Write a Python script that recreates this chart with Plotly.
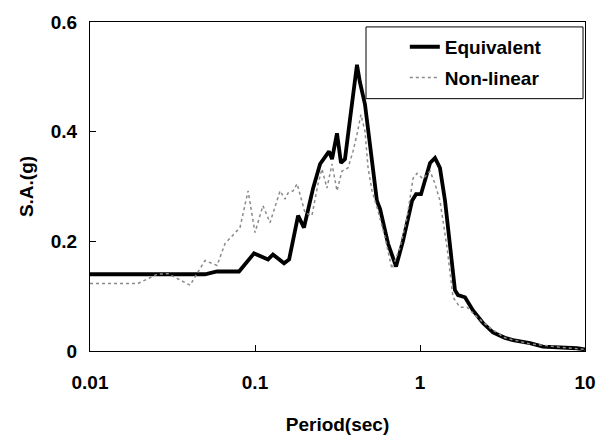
import plotly.graph_objects as go

# Equivalent (black solid)
eq_period = [0.01, 0.0498, 0.0589, 0.080, 0.0987, 0.120, 0.1285, 0.150, 0.161, 0.1825,
             0.198, 0.225, 0.248, 0.281, 0.293, 0.314, 0.332, 0.351, 0.377, 0.415,
             0.432, 0.464, 0.512, 0.548, 0.573, 0.640, 0.716, 0.789, 0.895, 0.946,
             1.014, 1.072, 1.151, 1.233, 1.321, 1.418, 1.520, 1.629, 1.700, 1.874,
             2.096, 2.408, 2.769, 3.27, 3.66, 4.64, 5.56, 7.78, 8.95, 10.0]
eq_sa = [0.140, 0.140, 0.145, 0.145, 0.178, 0.167, 0.176, 0.160, 0.167, 0.247,
         0.225, 0.297, 0.341, 0.364, 0.350, 0.397, 0.343, 0.350, 0.424, 0.522,
         0.491, 0.450, 0.346, 0.274, 0.259, 0.196, 0.154, 0.201, 0.274, 0.286,
         0.286, 0.314, 0.343, 0.352, 0.334, 0.274, 0.196, 0.111, 0.102, 0.098,
         0.074, 0.051, 0.034, 0.024, 0.020, 0.0145, 0.008, 0.007, 0.005, 0.003]

# Non-linear (grey dotted)
nl_period = [0.01, 0.0195, 0.0225, 0.0255, 0.0297, 0.0404, 0.0445, 0.0498, 0.0589, 0.0658,
             0.0811, 0.0908, 0.100, 0.1117, 0.1233, 0.1419, 0.152, 0.1585, 0.170, 0.180,
             0.201, 0.2213, 0.241, 0.2547, 0.2729, 0.293, 0.314, 0.3365, 0.3664, 0.3926,
             0.415, 0.4385, 0.464, 0.4844, 0.512, 0.556, 0.614, 0.676, 0.757, 0.834,
             0.908, 0.960, 1.042, 1.151, 1.233, 1.321, 1.458, 1.585, 1.746, 1.927,
             2.213, 2.655, 3.27, 4.64, 7.0, 10.0]
nl_sa = [0.123, 0.123, 0.132, 0.140, 0.141, 0.120, 0.141, 0.165, 0.156, 0.196,
         0.225, 0.292, 0.216, 0.265, 0.234, 0.292, 0.277, 0.288, 0.292, 0.305,
         0.252, 0.247, 0.305, 0.332, 0.297, 0.341, 0.292, 0.328, 0.334, 0.364,
         0.395, 0.431, 0.401, 0.334, 0.292, 0.256, 0.207, 0.150, 0.189, 0.243,
         0.315, 0.324, 0.314, 0.328, 0.305, 0.274, 0.189, 0.098, 0.080, 0.080,
         0.062, 0.042, 0.024, 0.013, 0.007, 0.003]

x_ticks = [0.01, 0.1, 1, 10]
x_tick_labels = ["0.01", "0.1", "1", "10"]
y_ticks = [0, 0.2, 0.4, 0.6]
y_tick_labels = ["0", "0.2", "0.4", "0.6"]

FONT = "Liberation Sans, Arial, sans-serif"
FS = 19

fig = go.Figure()
fig.add_trace(go.Scatter(x=eq_period, y=eq_sa, mode="lines", name="Equivalent",
                         legendgroup="a",
                         line=dict(color="black", width=3.8)))
fig.add_trace(go.Scatter(x=nl_period, y=nl_sa, mode="lines", name="Non-linear",
                         legendgroup="b",
                         line=dict(color="#8a8a8a", width=1.5, dash="dot")))

# legend frame
fig.add_shape(type="rect", xref="paper", yref="paper",
              x0=0.5576, x1=0.996, y0=0.767, y1=0.985,
              line=dict(color="black", width=1), fillcolor="white", layer="below")

fig.update_layout(
    width=603, height=439,
    margin=dict(l=90, r=18, t=20, b=88),
    paper_bgcolor="white", plot_bgcolor="white",
    font=dict(family=FONT, size=FS, color="black", weight="bold"),
    showlegend=True,
    legend=dict(x=0.636, y=0.982, xanchor="left", yanchor="top",
                bgcolor="rgba(0,0,0,0)", borderwidth=0,
                traceorder="grouped", tracegroupgap=3,
                font=dict(family=FONT, size=FS, color="black", weight="bold")),
    xaxis=dict(type="log", range=[-2, 1], tickvals=x_ticks, ticktext=x_tick_labels,
               ticks="inside", ticklen=6, tickcolor="black", ticklabelstandoff=14,
               showline=True, linecolor="black", linewidth=1, mirror=True,
               showgrid=False, zeroline=False, automargin=False,
               title=dict(text="Period(sec)", standoff=25,
                          font=dict(family=FONT, size=FS, weight="bold"))),
    yaxis=dict(range=[0, 0.6], tickvals=y_ticks, ticktext=y_tick_labels,
               ticks="inside", ticklen=6, tickcolor="black", ticklabelstandoff=8,
               showline=True, linecolor="black", linewidth=1, mirror=True,
               showgrid=False, zeroline=False,
               title=dict(text="S.A.(g)", standoff=12,
                          font=dict(family=FONT, size=FS, weight="bold"))),
)

fig.write_html("out.html")
